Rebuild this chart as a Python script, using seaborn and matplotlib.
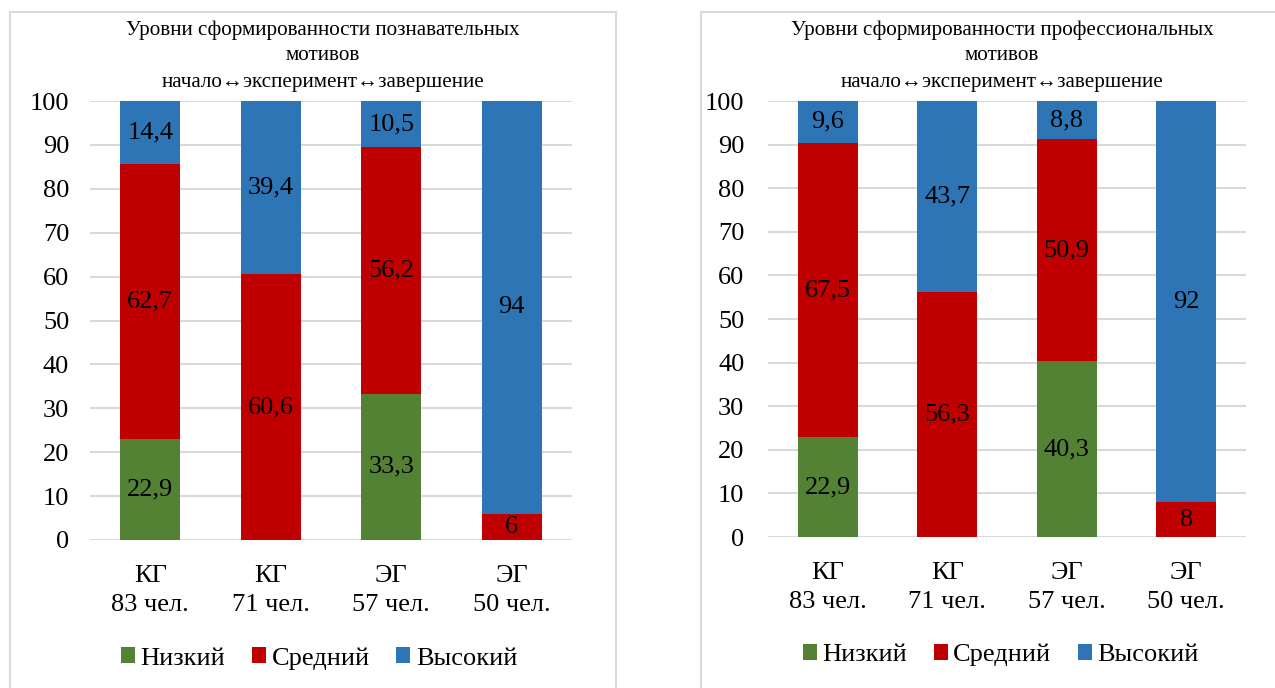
import matplotlib
matplotlib.use("Agg")
import matplotlib.pyplot as plt
from matplotlib.patches import Rectangle, Patch
import seaborn as sns

# groups shown on the x axis
groups = ["КГ\n83 чел.", "КГ\n71 чел.", "ЭГ\n57 чел.", "ЭГ\n50 чел."]
levels = ["Низкий", "Средний", "Высокий"]

# cognitive motives (left chart)
cog_low = [22.9, 0, 33.3, 0]
cog_mid = [62.7, 60.6, 56.2, 6]
cog_high = [14.4, 39.4, 10.5, 94]

# professional motives (right chart)
prof_low = [22.9, 0, 40.3, 0]
prof_mid = [67.5, 56.3, 50.9, 8]
prof_high = [9.6, 43.7, 8.8, 92]

titles = [
    "Уровни сформированности познавательных\nмотивов\nначало↔эксперимент↔завершение",
    "Уровни сформированности профессиональных\nмотивов\nначало↔эксперимент↔завершение",
]

colors = ["#548235", "#C00000", "#2E75B6"]
grid_c = "#D9D9D9"

sns.set_theme(style="white")
plt.rcParams["font.family"] = ["Liberation Serif", "DejaVu Serif"]
plt.rcParams["text.color"] = "black"
plt.rcParams["xtick.color"] = "black"
plt.rcParams["ytick.color"] = "black"

fig = plt.figure(figsize=(12.75, 6.88), dpi=100)
W, H = 1275, 688


def px_box(x0, y0, x1, y1):
    return [x0 / W, 1 - y1 / H, (x1 - x0) / W, (y1 - y0) / H]


# panel frames
fig.patches.append(Rectangle((10 / W, -0.1), (616 - 10) / W, 1.1 - 12 / H,
                             transform=fig.transFigure, fill=False,
                             edgecolor=grid_c, lw=1.5))
fig.patches.append(Rectangle((701 / W, -0.1), 0.5, 1.1 - 12 / H,
                             transform=fig.transFigure, fill=False,
                             edgecolor=grid_c, lw=1.5))

ax_l = fig.add_axes(px_box(90, 101, 572, 540))
ax_r = fig.add_axes(px_box(768, 101, 1246, 537))

# axes, data, title centre (px), y tick pad, legend x anchor
panels = [
    (ax_l, cog_low, cog_mid, cog_high, titles[0], 323, 15, 0.475),
    (ax_r, prof_low, prof_mid, prof_high, titles[1], 1002, 17, 0.487),
]

for ax, low, mid, high, title, cx, ypad, lx in panels:
    tot = [a + b + c for a, b, c in zip(low, mid, high)]
    low_mid = [a + b for a, b in zip(low, mid)]
    # overlay cumulative bars to get stacked look
    sns.barplot(x=groups, y=tot, color=colors[2], width=0.5, saturation=1,
                ax=ax, zorder=3, edgecolor="none")
    sns.barplot(x=groups, y=low_mid, color=colors[1], width=0.5, saturation=1,
                ax=ax, zorder=3, edgecolor="none")
    sns.barplot(x=groups, y=low, color=colors[0], width=0.5, saturation=1,
                ax=ax, zorder=3, edgecolor="none")

    for i in range(len(groups)):
        base = 0
        for v in (low[i], mid[i], high[i]):
            if v > 0:
                ax.text(i, base + v / 2, f"{v:g}".replace(".", ","),
                        ha="center", va="center", fontsize=19, zorder=5)
            base += v

    ax.set_ylim(0, 100)
    ax.set_xlim(-0.5, 3.5)
    ax.set_yticks(range(0, 101, 10))
    ax.yaxis.grid(True, color=grid_c, lw=1.5, zorder=0)
    ax.set_axisbelow(True)
    for s in ax.spines.values():
        s.set_visible(False)
    ax.tick_params(axis="y", length=0, pad=ypad, labelsize=19)
    ax.tick_params(axis="x", length=0, pad=18, labelsize=19)
    for t in ax.get_xticklabels():
        t.set_linespacing(1.4)
    ax.set_xlabel("")
    ax.set_ylabel("")

    fig.text(cx / W, 1 - 20 / H, title, ha="center", va="top",
             fontsize=15.2, linespacing=1.5)

    handles = [Patch(facecolor=c, edgecolor="none") for c in colors]
    ax.legend(handles, levels, loc="center", bbox_to_anchor=(lx, -0.27),
              ncol=3, frameon=False, fontsize=19, handlelength=0.55,
              handleheight=0.55, handletextpad=0.2, columnspacing=1.0)

fig.savefig("out.png", dpi=100)
